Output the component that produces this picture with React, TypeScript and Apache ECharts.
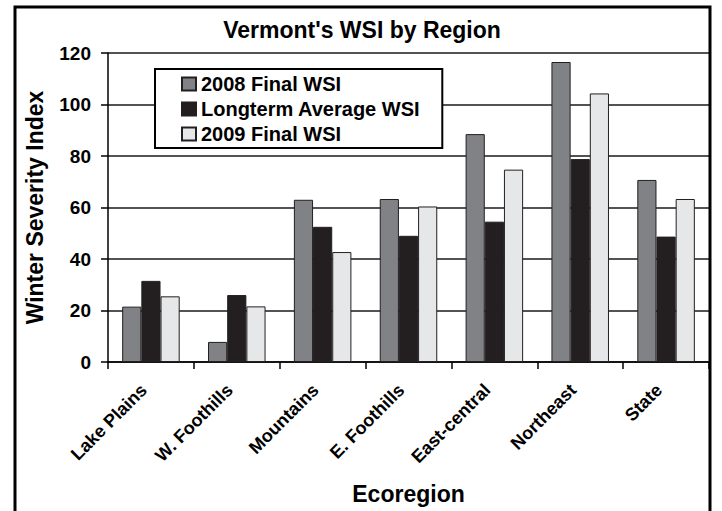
import React, { useEffect, useRef } from "react";
import * as echarts from "echarts";

const categories = ["Lake Plains", "W. Foothills", "Mountains", "E. Foothills", "East-central", "Northeast", "State"];
const wsi2008 = [21.5, 7.8, 63, 63.3, 88.5, 116.5, 70.7];
const longterm = [31.5, 26, 52.5, 49, 54.5, 78.8, 48.7];
const wsi2009 = [25.5, 21.6, 42.7, 60.4, 74.7, 104.3, 63.3];
const seriesNames = ["2008 Final WSI", "Longterm Average WSI", "2009 Final WSI"];
const yTicks = { min: 0, max: 120, interval: 20 };

const FONT = "'Liberation Sans', Arial, sans-serif";

export default function App() {
  const ref = useRef<HTMLDivElement>(null);
  useEffect(() => {
    if (!ref.current) return;
    const chart = echarts.init(ref.current, undefined, { renderer: "svg" });
    const colors = ["#808285", "#231f20", "#e6e7e8"];
    const data = [wsi2008, longterm, wsi2009];
    chart.setOption({
      animation: false,
      backgroundColor: "#ffffff",
      textStyle: { fontFamily: FONT },
      title: {
        text: "Vermont's WSI by Region",
        left: 357,
        textAlign: "center",
        top: 13,
        textStyle: { fontFamily: FONT, fontWeight: "bold", fontSize: 23, color: "#000" },
      },
      graphic: [
        {
          type: "rect",
          shape: { x: 15, y: 7, width: 695, height: 530 },
          style: { fill: "none", stroke: "#000", lineWidth: 3 },
          z: 100,
        },
      ],
      legend: {
        orient: "vertical",
        left: 155,
        top: 69,
        padding: [5, 22, 4, 26],
        itemGap: 5,
        itemWidth: 14,
        itemHeight: 13,
        backgroundColor: "#fff",
        borderColor: "#000",
        borderWidth: 2,
        icon: "rect",
        data: seriesNames,
        textStyle: { fontFamily: FONT, fontWeight: "bold", fontSize: 20, color: "#000", lineHeight: 20 },
      },
      grid: { left: 108, right: 13, top: 53, bottom: 149, containLabel: false },
      xAxis: {
        type: "category",
        data: categories,
        name: "Ecoregion",
        nameLocation: "middle",
        nameGap: 120,
        nameTextStyle: { fontFamily: FONT, fontWeight: "bold", fontSize: 23, color: "#000" },
        axisLine: { lineStyle: { color: "#000", width: 1.5 } },
        axisTick: { show: true, length: 7, lineStyle: { color: "#000", width: 1.5 } },
        axisLabel: {
          rotate: 45,
          interval: 0,
          margin: 18,
          padding: [0, 10, 0, 0],
          fontFamily: FONT,
          fontWeight: "bold",
          fontSize: 18,
          color: "#000",
        },
        splitLine: { show: false },
      },
      yAxis: {
        type: "value",
        min: yTicks.min,
        max: yTicks.max,
        interval: yTicks.interval,
        name: "Winter Severity Index",
        nameLocation: "middle",
        nameRotate: 90,
        nameGap: 62,
        nameTextStyle: { fontFamily: FONT, fontWeight: "bold", fontSize: 23, color: "#000" },
        axisLine: { show: true, lineStyle: { color: "#000", width: 1.5 } },
        axisTick: { show: true, length: 7, lineStyle: { color: "#000", width: 1.5 } },
        axisLabel: { margin: 17, fontFamily: FONT, fontWeight: "bold", fontSize: 19, color: "#000" },
        splitLine: { show: true, lineStyle: { color: "#1a1a1a", width: 1.5 } },
      },
      series: seriesNames.map((name, i) => ({
        name,
        type: "bar",
        data: data[i],
        barGap: "0%",
        barCategoryGap: "33%",
        itemStyle: { color: colors[i], borderColor: "#231f20", borderWidth: 1 },
      })),
    });
    return () => chart.dispose();
  }, []);
  return (
    <div
      ref={ref}
      style={{ position: "fixed", left: 0, top: 0, width: 722, height: 511 }}
    />
  );
}
